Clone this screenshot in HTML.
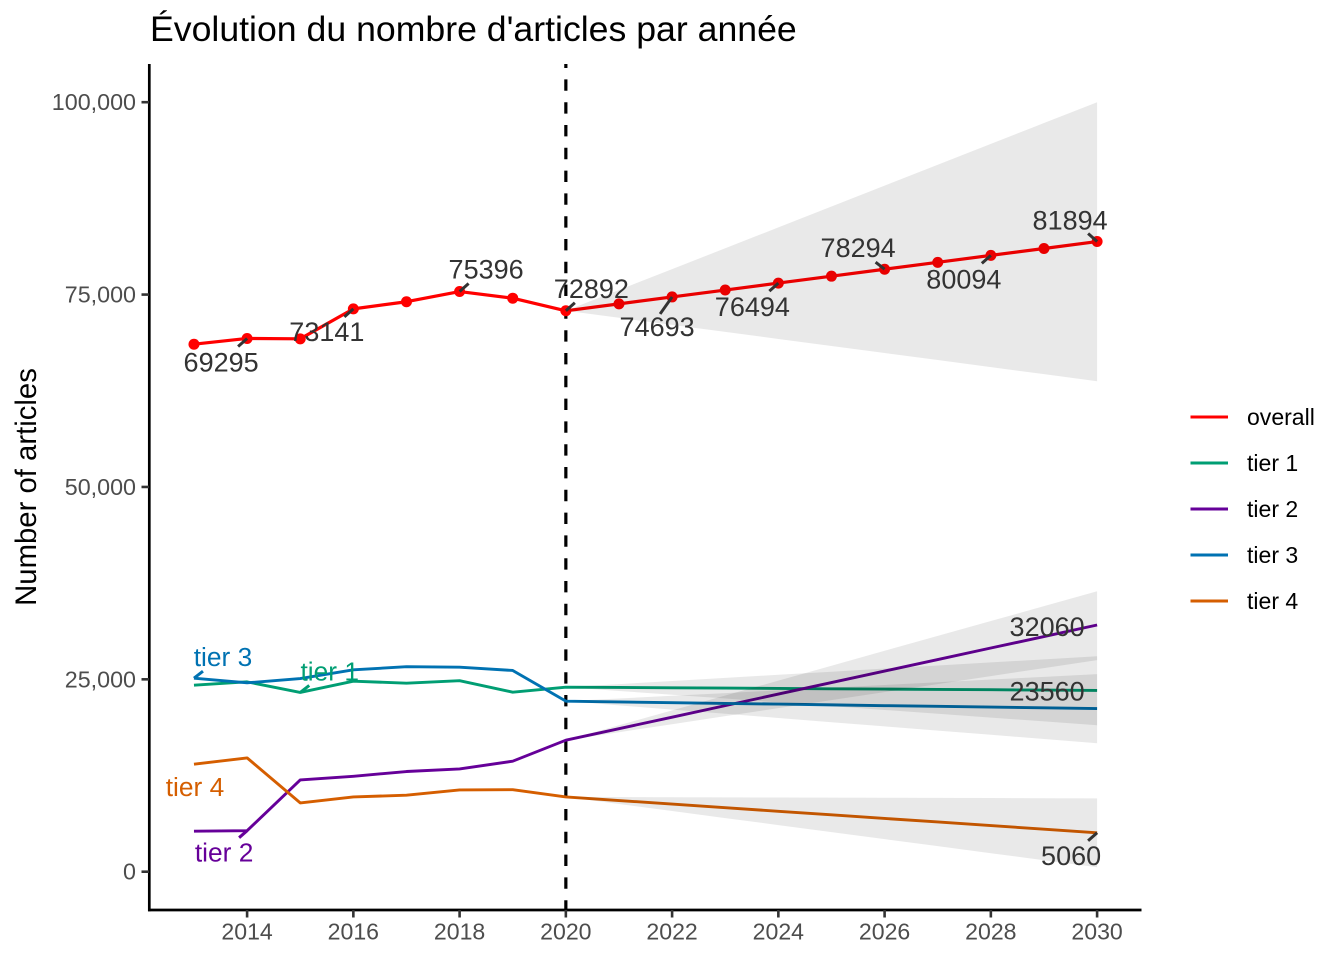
<!DOCTYPE html>
<html lang="fr">
<head>
<meta charset="utf-8">
<title>Évolution du nombre d'articles par année</title>
<style>
html,body{margin:0;padding:0;background:#fff;}
svg{display:block;font-family:"Liberation Sans",sans-serif;}
</style>
</head>
<body>
<svg id="chart" xmlns="http://www.w3.org/2000/svg" width="1344" height="960" viewBox="0 0 1344 960">
  <rect x="0" y="0" width="1344" height="960" fill="#ffffff"/>
  <text x="150" y="41" font-size="35.65" fill="#000000">Évolution du nombre d'articles par année</text>
  <text transform="translate(36,487) rotate(-90)" text-anchor="middle" font-size="29.3" fill="#000000">Number of articles</text>
  <g id="marks"></g>
  <g id="ribbons"></g>
  <g id="axes"></g>
  <g id="labels"></g>
  <g id="legend"></g>
</svg>
<script>
const years = [2013,2014,2015,2016,2017,2018,2019,2020,2021,2022,2023,2024,2025,2026,2027,2028,2029,2030];
const overall = [68550,69295,69250,73141,74070,75396,74530,72892,73790,74693,75590,76494,77390,78294,79190,80094,80990,81894];
const tier1 = [24240,24670,23290,24760,24500,24820,23330,23980,23940,23900,23860,23820,23770,23730,23690,23650,23600,23560];
const tier2 = [5260,5330,11930,12400,13020,13360,14360,17090,18590,20080,21580,23080,24580,26070,27570,29070,30560,32060];
const tier3 = [25150,24540,25100,26230,26640,26580,26150,22160,22060,21970,21870,21780,21680,21580,21490,21390,21300,21200];
const tier4 = [13970,14790,8940,9720,9940,10630,10660,9720,9250,8790,8320,7850,7390,6920,6460,5990,5530,5060];

const forecastYears = [2020,2021,2022,2023,2024,2025,2026,2027,2028,2029,2030];
const overallUpper = [72892,75600,78310,81020,83730,86450,89160,91870,94580,97290,100000];
const overallLower = [72892,71980,71060,70150,69230,68320,67400,66490,65570,64660,63740];
const tier1Upper = [23980,24380,24790,25190,25590,25990,26400,26800,27200,27600,28000];
const tier1Lower = [23980,23490,22990,22500,22000,21510,21020,20520,20030,19530,19040];
const tier2Upper = [17090,19030,20960,22900,24830,26770,28710,30640,32580,34510,36450];
const tier2Lower = [17090,18130,19170,20210,21250,22300,23340,24380,25420,26460,27500];
const tier3Upper = [22160,22510,22860,23210,23560,23920,24270,24620,24970,25320,25670];
const tier3Lower = [22160,21610,21070,20520,19980,19430,18880,18340,17790,17250,16700];
const tier4Upper = [9720,9700,9680,9660,9640,9630,9610,9590,9570,9550,9530];
const tier4Lower = [9720,8800,7890,6970,6060,5150,4230,3320,2400,1490,580];

const xTicks = [2014,2016,2018,2020,2022,2024,2026,2028,2030];
const yTicks = [0,25000,50000,75000,100000];
const yTickLabels = ["0","25,000","50,000","75,000","100,000"];
const cutoffYear = 2020;

const legendLabels = ["overall","tier 1","tier 2","tier 3","tier 4"];
const seriesColors = ["#ff0000","#009e73","#660099","#0072b2","#d55e00"];
const seriesValues = [overall,tier1,tier2,tier3,tier4];

const NS = "http://www.w3.org/2000/svg";
function xScale(year){ return 247.1 + (year - 2014) * 53.125; }
function yScale(value){ return 871.7 - value * 0.007695; }
function make(tag, attrs, parent){
  const el = document.createElementNS(NS, tag);
  for (const k in attrs) el.setAttribute(k, attrs[k]);
  parent.appendChild(el);
  return el;
}
const marks = document.getElementById("marks");
const ribbons = document.getElementById("ribbons");
const axes = document.getElementById("axes");
const labels = document.getElementById("labels");
const legend = document.getElementById("legend");

function polyPoints(xs, ys){
  return xs.map((x, i) => xScale(x).toFixed(2) + "," + yScale(ys[i]).toFixed(2)).join(" ");
}

const cutoff = make("line", {x1: xScale(cutoffYear), x2: xScale(cutoffYear), y1: 64, y2: 910, stroke: "#000000", "stroke-width": 3.2, "stroke-dasharray": "11.4 11.4", "stroke-dashoffset": 7.4}, marks);



seriesValues.forEach((vals, s) => {
  const line = make("polyline", {points: polyPoints(years, vals), fill: "none", stroke: seriesColors[s], "stroke-width": s === 0 ? 3.2 : 2.9, "stroke-linejoin": "round"}, marks);
  
  
});

overall.forEach((v, i) => {
  const dot = make("circle", {cx: xScale(years[i]), cy: yScale(v), r: 5.5, fill: "#ff0000"}, marks);
  
  
});

[[overallUpper,overallLower,"overall"],[tier1Upper,tier1Lower,"tier-1"],[tier2Upper,tier2Lower,"tier-2"],[tier3Upper,tier3Lower,"tier-3"],[tier4Upper,tier4Lower,"tier-4"]].forEach(r => {
  const pts = polyPoints(forecastYears, r[0]) + " " + polyPoints(forecastYears.slice().reverse(), r[1].slice().reverse());
  const band = make("polygon", {points: pts, fill: "#000000", "fill-opacity": 0.0863}, ribbons);
  
  
});

const yAxisLine = make("line", {x1: 149.3, x2: 149.3, y1: 64, y2: 911.3, stroke: "#000000", "stroke-width": 2.7}, axes);


const xAxisLine = make("line", {x1: 148, x2: 1141.5, y1: 910, y2: 910, stroke: "#000000", "stroke-width": 2.7}, axes);



xTicks.forEach(t => {
  const tick = make("line", {x1: xScale(t), x2: xScale(t), y1: 910, y2: 917.5, stroke: "#333333", "stroke-width": 2.6}, axes);
  
  
  const tl = make("text", {x: xScale(t), y: 939.5, "text-anchor": "middle", "font-size": 23.1, fill: "#4d4d4d"}, axes);
  
  
  tl.textContent = String(t);
});
yTicks.forEach((t, i) => {
  const tick = make("line", {x1: 141.5, x2: 149, y1: yScale(t), y2: yScale(t), stroke: "#333333", "stroke-width": 2.6}, axes);
  
  
  const tl = make("text", {x: 136, y: yScale(t) + 8, "text-anchor": "end", "font-size": 23.3, fill: "#4d4d4d"}, axes);
  
  
  tl.textContent = yTickLabels[i];
});

/* text at a pixel offset from its data anchor, with an optional leader segment */
function annotate(year, value, text, color, size, dx, baseDy, sx, sy){
  const px = xScale(year), py = yScale(value);
  if (sx !== null) {
    const seg = make("line", {x1: px, y1: py, x2: px + sx, y2: py + sy, stroke: color, "stroke-width": 3}, labels);
    
    
  }
  const t = make("text", {x: px + dx, y: py + baseDy, "text-anchor": "middle", "font-size": size, fill: color}, labels);
  
  
  t.textContent = text;
}
const ink = "#333333";
const numSize = 27;
const tierSize = 26.3;
annotate(2014, overall[1], String(overall[1]), ink, numSize, -26, 33, -9, 8);
annotate(2016, overall[3], String(overall[3]), ink, numSize, -26.5, 32, -9, 8);
annotate(2018, overall[5], String(overall[5]), ink, numSize, 26.5, -13, 9, -8);
annotate(2020, overall[7], String(overall[7]), ink, numSize, 25.5, -13, 9, -8);
annotate(2022, overall[9], String(overall[9]), ink, numSize, -15, 39, -12, 17);
annotate(2024, overall[11], String(overall[11]), ink, numSize, -26, 33, -9, 8);
annotate(2026, overall[13], String(overall[13]), ink, numSize, -26.5, -12, -9, -7);
annotate(2028, overall[15], String(overall[15]), ink, numSize, -27, 33, -9, 8);
annotate(2030, overall[17], String(overall[17]), ink, numSize, -27, -12, -9, -8);
annotate(2030, tier2[17], String(tier2[17]), ink, numSize, -50, 11, null, null);
annotate(2030, tier1[17], String(tier1[17]), ink, numSize, -50, 10, null, null);
annotate(2030, tier4[17], String(tier4[17]), ink, numSize, -26, 32, -9, 8);
annotate(2013, tier3[0], legendLabels[3], seriesColors[3], tierSize, 29, -12, 9, -7);
annotate(2015, tier1[2], legendLabels[1], seriesColors[1], tierSize, 29.5, -12, 9, -7);
annotate(2014, tier2[1], legendLabels[2], seriesColors[2], tierSize, -23, 31, -8, 7);
annotate(2013, tier4[0], legendLabels[4], seriesColors[4], tierSize, 1, 32, null, null);

legendLabels.forEach((name, i) => {
  const ly = 417 + i * 46;
  const key = make("line", {x1: 1190.5, x2: 1228, y1: ly, y2: ly, stroke: seriesColors[i], "stroke-width": 3.1}, legend);
  
  
  const lt = make("text", {x: 1247, y: ly + 8, "font-size": 23.04, fill: "#000000"}, legend);
  
  
  lt.textContent = name;
});
</script>
</body>
</html>
